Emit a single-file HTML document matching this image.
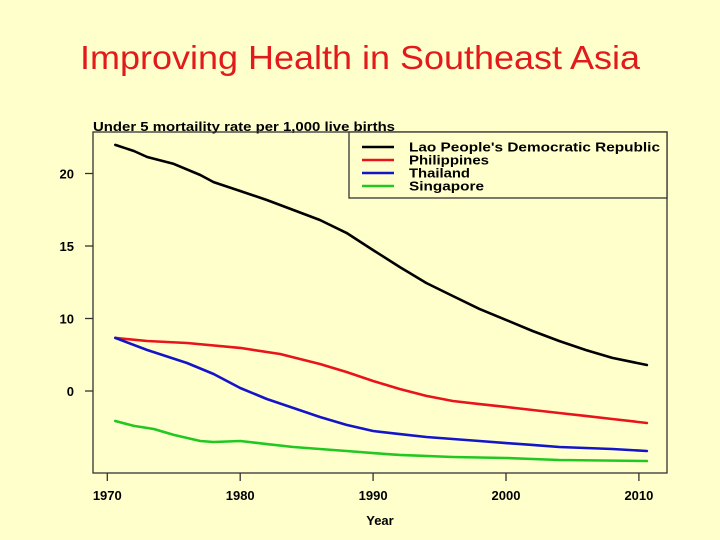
<!DOCTYPE html>
<html><head><meta charset="utf-8"><style>
body{margin:0;background:#FFFFCC;}
svg{display:block;font-family:"Liberation Sans",Arial,sans-serif;}
</style></head><body>
<svg id="chart" width="720" height="540">
<rect width="720" height="540" fill="#FFFFCC"/>
<text x="360" y="69" text-anchor="middle" font-size="33" fill="#E31A1C" textLength="560" lengthAdjust="spacingAndGlyphs">Improving Health in Southeast Asia</text>
<text x="93" y="131" font-size="13" font-weight="bold" fill="#000" textLength="302" lengthAdjust="spacingAndGlyphs">Under 5 mortaility rate per 1,000 live births</text>
<rect x="93" y="132" width="574" height="341" fill="none" stroke="#333" stroke-width="1.3"/>
<text x="380" y="525" text-anchor="middle" font-size="13" font-weight="bold" fill="#000">Year</text>
<g id="axes"></g>
<g id="series"></g>
<g id="legend">
<rect x="349" y="132" width="318" height="66" fill="#FFFFCC" stroke="#333" stroke-width="1.3"/>
</g>
</svg>
<script>
const xTicks=[1970,1980,1990,2000,2010];
const yTickVals=[20,15,10,5];
const yTickLabels=["20","15","10","0"];
const seriesNames=["Lao People's Democratic Republic","Philippines","Thailand","Singapore"];
const seriesColors=["#000000","#E8141A","#1414C8","#22C822"];
const laoYears=[1970.6,1972,1973,1975,1977,1978,1980,1982,1984,1986,1988,1990,1992,1994,1996,1998,2000,2002,2004,2006,2008,2010.6];
const laoValues=[21.97,21.55,21.14,20.66,19.90,19.41,18.79,18.17,17.48,16.79,15.90,14.72,13.55,12.45,11.55,10.66,9.90,9.14,8.45,7.83,7.28,6.79];
const phlYears=[1970.6,1973,1976,1980,1983,1986,1988,1990,1992,1994,1996,1998,2000,2002,2004,2006,2008,2010.6];
const phlValues=[8.66,8.45,8.31,7.97,7.55,6.86,6.31,5.69,5.14,4.66,4.31,4.10,3.90,3.69,3.48,3.28,3.07,2.79];
const thaYears=[1970.6,1973,1976,1978,1980,1982,1984,1986,1988,1990,1992,1994,1996,1998,2000,2002,2004,2006,2008,2010.6];
const thaValues=[8.66,7.83,6.93,6.17,5.21,4.45,3.83,3.21,2.66,2.24,2.03,1.83,1.69,1.55,1.41,1.28,1.14,1.07,1.00,0.86];
const sgpYears=[1970.6,1972,1973.5,1975,1977,1978,1980,1982,1984,1986,1988,1990,1992,1996,2000,2002,2004,2010.6];
const sgpValues=[2.93,2.59,2.38,1.97,1.55,1.48,1.55,1.34,1.14,1.00,0.86,0.72,0.59,0.45,0.38,0.31,0.24,0.17];

const NS="http://www.w3.org/2000/svg";
function xs(yr){return 107.3+(yr-1970)*13.29;}
function ys(v){return 391-(v-5)*14.5;}
function mk(tag,attrs,parent){const e=document.createElementNS(NS,tag);for(const k in attrs)e.setAttribute(k,attrs[k]);parent.appendChild(e);return e;}
const axes=document.getElementById('axes');
xTicks.forEach(t=>{
  const l=mk('line',{x1:xs(t),x2:xs(t),y1:473,y2:481,stroke:'#333','stroke-width':1.3},axes);
  
  
  const tx=mk('text',{x:xs(t),y:500,'text-anchor':'middle','font-size':13,'font-weight':'bold',fill:'#000'},axes);
  tx.textContent=t;
  
  
});
yTickVals.forEach((v,i)=>{
  const l=mk('line',{x1:85,x2:93,y1:ys(v),y2:ys(v),stroke:'#333','stroke-width':1.3},axes);
  
  
  const tx=mk('text',{x:74,y:ys(v)+5,'text-anchor':'end','font-size':13,'font-weight':'bold',fill:'#000'},axes);
  tx.textContent=yTickLabels[i];
  
  
});
const allYears=[laoYears,phlYears,thaYears,sgpYears];
const allVals=[laoValues,phlValues,thaValues,sgpValues];
const lineNames=['lao-line','philippines-line','thailand-line','singapore-line'];
const sg=document.getElementById('series');
allYears.forEach((yrs,i)=>{
  const pts=yrs.map((y,j)=>xs(y).toFixed(1)+','+ys(allVals[i][j]).toFixed(1)).join(' ');
  const p=mk('polyline',{points:pts,fill:'none',stroke:seriesColors[i],'stroke-width':2.6,'stroke-linejoin':'round','stroke-linecap':'round'},sg);
  
  
});
const lg=document.getElementById('legend');
const rowY=[147,160,173,186];
const legendLens=[251,80,61,75];
seriesNames.forEach((n,i)=>{
  const l=mk('line',{x1:362,x2:394,y1:rowY[i],y2:rowY[i],stroke:seriesColors[i],'stroke-width':2.6},lg);
  
  
  const t=mk('text',{x:409,y:rowY[i]+4.5,'font-size':13,'font-weight':'bold',fill:'#000',textLength:legendLens[i],lengthAdjust:'spacingAndGlyphs'},lg);
  t.textContent=n;
  
  
});
</script>
</body></html>
